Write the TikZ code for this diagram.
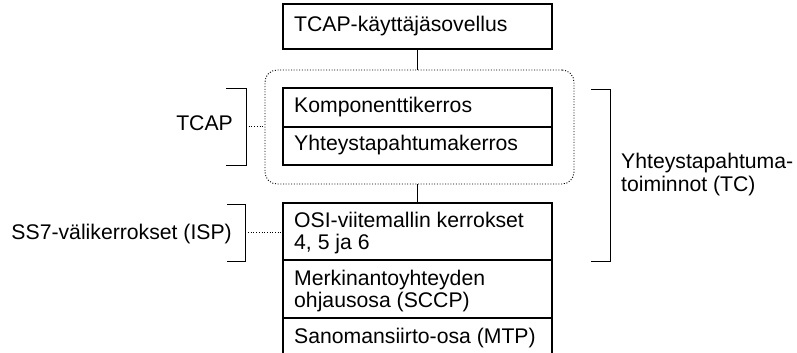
\documentclass[tikz,border=0pt]{standalone}
\usepackage{fontspec}
\setmainfont{Liberation Sans}
\begin{document}
\begin{tikzpicture}[x=1pt,y=-1pt,
  cell/.style={draw=black,line width=1.3pt,inner sep=0pt},
  label/.style={inner sep=0pt,font=\fontsize{21.2}{22.5}\selectfont},
  bracket/.style={draw=black,line width=1pt},
  dotline/.style={draw=black,line width=0.9pt,dash pattern=on 1pt off 1.7pt},
  link/.style={draw=black,line width=1pt}]
\useasboundingbox (0,0) rectangle (797,353);

% application box on top
\node[cell,minimum width=269pt,minimum height=45pt] (app) at (417.5,26.5) {};
\node[label,anchor=base west] (appt) at (294,32) {TCAP-käyttäjäsovellus};

% TCAP group: dotted rounded outline around the two sublayers
\node[dotline,rounded corners=12pt,minimum width=309pt,minimum height=114pt,inner sep=0pt] (grp) at (419.5,127) {};
\node[cell,minimum width=269pt,minimum height=39pt] (comp) at (417.5,107.5) {};
\node[cell,minimum width=269pt,minimum height=38pt] (trans) at (417.5,146) {};
\node[label,anchor=base west] (compt) at (294,112) {Komponenttikerros};
\node[label,anchor=base west] (transt) at (294,150) {Yhteystapahtumakerros};

% lower stack, open at the bottom
\coordinate (ositl) at (283,203);
\coordinate (ositr) at (552,203);
\coordinate (stbl) at (283,353);
\coordinate (stbr) at (552,353);
\coordinate (d1l) at (283,260);
\coordinate (d1r) at (552,260);
\coordinate (d2l) at (283,318);
\coordinate (d2r) at (552,318);
\draw[line width=1.3pt] (stbl) -- (ositl) -- (ositr) -- (stbr);
\draw[line width=1.3pt] (d1l) -- (d1r);
\draw[line width=1.3pt] (d2l) -- (d2r);
% multi-line labels: the base anchor sits on the last line
\node[label,anchor=base west,align=left] (osit) at (294,249.5) {OSI-viitemallin kerrokset\\4, 5 ja 6};
\node[label,anchor=base west,align=left] (sccpt) at (294,307.5) {Merkinantoyhteyden\\ohjausosa (SCCP)};
\node[label,anchor=base west] (mtpt) at (294,343) {Sanomansiirto-osa (MTP)};
\coordinate (ositop) at (417.5,203);

% vertical links
\draw[link] (app.south) -- (app.south |- grp.north);
\draw[link] (grp.south -| ositop) -- (ositop);

% TCAP bracket
\coordinate (tb1) at (226,88);
\coordinate (tb2) at (246,88);
\coordinate (tb3) at (246,165);
\coordinate (tb4) at (226,165);
\coordinate (tbm) at (246,126);
\draw[bracket] (tb1) -- (tb2) -- (tb3) -- (tb4);
\node[label,anchor=base east] (tcap) at (233,130) {TCAP};
\draw[dotline] (tbm) -- (grp.west |- tbm);

% ISP bracket
\coordinate (ib1) at (227,204);
\coordinate (ib2) at (245,204);
\coordinate (ib3) at (245,261);
\coordinate (ib4) at (227,261);
\coordinate (ibm) at (248,232);
\coordinate (ibe) at (283,232);
\draw[bracket] (ib1) -- (ib2) -- (ib3) -- (ib4);
\node[label,anchor=base east] (isp) at (232,239) {SS7-välikerrokset (ISP)};
\draw[dotline] (ibm) -- (ibe);

% TC bracket on the right
\coordinate (cb1) at (591,89);
\coordinate (cb2) at (610,89);
\coordinate (cb3) at (610,261);
\coordinate (cb4) at (591,261);
\draw[bracket] (cb1) -- (cb2) -- (cb3) -- (cb4);
\node[label,anchor=base west,align=left] (tc) at (621,191) {Yhteystapahtuma-\\toiminnot (TC)};
\end{tikzpicture}
\end{document}
